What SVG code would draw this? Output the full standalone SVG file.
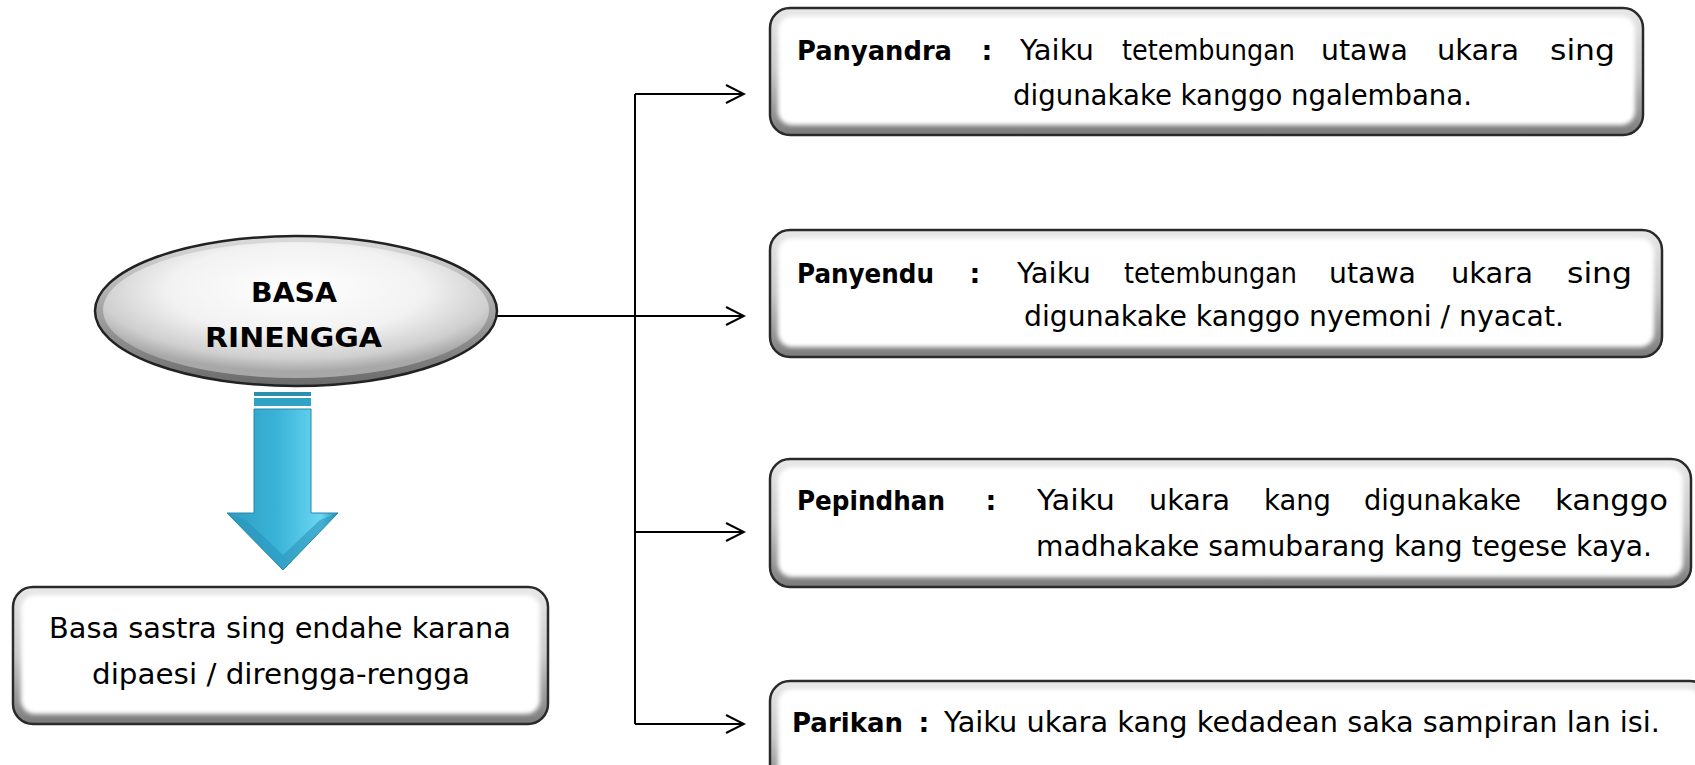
<svg xmlns="http://www.w3.org/2000/svg" width="1695" height="765" viewBox="0 0 1695 765">
<defs>
<style>
.t{font-family:"DejaVu Sans","Noto Sans",sans-serif;font-size:28.5px;fill:#000}
.b{font-weight:bold;font-size:27px}
.c{text-anchor:middle}
.conn{fill:none;stroke:#000;stroke-width:2}
.outer{stroke:#2a2a2a;stroke-width:2.5;fill:url(#rim)}
.inner{fill:#fff;filter:url(#soft)}
</style>
<linearGradient id="rim" x1="0" y1="0" x2="0" y2="1">
<stop offset="0" stop-color="#e8e8e8"/>
<stop offset="0.5" stop-color="#c8c8c8"/>
<stop offset="1" stop-color="#7a7a7a"/>
</linearGradient>
<filter id="soft" x="-5%" y="-10%" width="110%" height="120%">
<feGaussianBlur stdDeviation="2"/>
</filter>
<radialGradient id="ell" cx="0.5" cy="0.35" r="0.6">
<stop offset="0" stop-color="#ffffff"/>
<stop offset="0.55" stop-color="#f2f2f2"/>
<stop offset="0.85" stop-color="#cfcfcf"/>
<stop offset="1" stop-color="#a8a8a8"/>
</radialGradient>
<linearGradient id="ellrim" x1="0" y1="0" x2="0" y2="1">
<stop offset="0" stop-color="#dcdcdc"/>
<stop offset="1" stop-color="#6a6a6a"/>
</linearGradient>
<linearGradient id="shaft" x1="0" y1="0" x2="1" y2="0">
<stop offset="0" stop-color="#2e9dc2"/>
<stop offset="0.45" stop-color="#3ab3d8"/>
<stop offset="0.85" stop-color="#6ad6f2"/>
<stop offset="1" stop-color="#2a8fb3"/>
</linearGradient>
<marker id="ah" markerWidth="22" markerHeight="22" refX="20" refY="11" orient="auto" markerUnits="userSpaceOnUse">
<path d="M2,2 L20,11 L2,20" fill="none" stroke="#000" stroke-width="2"/>
</marker>
</defs>
<rect width="1695" height="765" fill="#fff"/>

<g id="connectors">
<path class="conn" d="M497,316 H635"/>
<path class="conn" d="M635,94 V724"/>
<path class="conn" d="M635,94 H744" marker-end="url(#ah)"/>
<path class="conn" d="M635,316 H744" marker-end="url(#ah)"/>
<path class="conn" d="M635,532 H744" marker-end="url(#ah)"/>
<path class="conn" d="M635,724 H744" marker-end="url(#ah)"/>
</g>

<g id="basa-rinengga">
<ellipse cx="296" cy="311" rx="201" ry="75" fill="url(#ellrim)" stroke="#222" stroke-width="2.5"/>
<ellipse cx="296" cy="310" rx="193" ry="68" fill="url(#ell)"/>
<text class="t b" x="251" y="302" font-size="30" textLength="86" lengthAdjust="spacingAndGlyphs">BASA</text>
<text class="t b" x="205" y="347" font-size="30" textLength="177" lengthAdjust="spacingAndGlyphs">RINENGGA</text>
</g>

<g id="down-arrow">
<rect x="254" y="392" width="57" height="4" fill="#2b8fb0"/>
<rect x="254" y="398" width="57" height="8" fill="#2fa2c6"/>
<path d="M254,409 H311 V513 H338 L283,570 L227,513 H254 Z" fill="url(#shaft)" stroke="#2687a8" stroke-width="1"/>
<path d="M227,513 L283,570 L338,513 L320,520 L283,555 L246,520 Z" fill="#2b95bb" opacity="0.6"/>
</g>

<g id="definition">
<rect class="outer" x="13" y="587" width="535" height="137" rx="20"/>
<rect class="inner" x="21" y="595" width="519" height="119" rx="14"/>
<text class="t" x="49" y="638" textLength="462" lengthAdjust="spacingAndGlyphs">Basa sastra sing endahe karana</text>
<text class="t" x="92" y="684" textLength="378" lengthAdjust="spacingAndGlyphs">dipaesi / direngga-rengga</text>
</g>

<g id="panyandra">
<rect class="outer" x="770" y="8" width="873" height="127" rx="20"/>
<rect class="inner" x="778" y="16" width="857" height="109" rx="14"/>
<text class="t b" x="797" y="60" textLength="155" lengthAdjust="spacingAndGlyphs">Panyandra</text>
<text class="t b c" x="987" y="60">:</text>
<text class="t" x="1020" y="60" textLength="74" lengthAdjust="spacingAndGlyphs">Yaiku</text>
<text class="t" x="1122" y="60" textLength="173" lengthAdjust="spacingAndGlyphs">tetembungan</text>
<text class="t" x="1321" y="60" textLength="87" lengthAdjust="spacingAndGlyphs">utawa</text>
<text class="t" x="1437" y="60" textLength="82" lengthAdjust="spacingAndGlyphs">ukara</text>
<text class="t" x="1550" y="60" textLength="65" lengthAdjust="spacingAndGlyphs">sing</text>
<text class="t" x="1013" y="105" textLength="459" lengthAdjust="spacingAndGlyphs">digunakake kanggo ngalembana.</text>
</g>

<g id="panyendu">
<rect class="outer" x="770" y="230" width="892" height="127" rx="20"/>
<rect class="inner" x="778" y="238" width="876" height="109" rx="14"/>
<text class="t b" x="797" y="283" textLength="137" lengthAdjust="spacingAndGlyphs">Panyendu</text>
<text class="t b c" x="975" y="283">:</text>
<text class="t" x="1017" y="283" textLength="74" lengthAdjust="spacingAndGlyphs">Yaiku</text>
<text class="t" x="1124" y="283" textLength="173" lengthAdjust="spacingAndGlyphs">tetembungan</text>
<text class="t" x="1329" y="283" textLength="87" lengthAdjust="spacingAndGlyphs">utawa</text>
<text class="t" x="1451" y="283" textLength="82" lengthAdjust="spacingAndGlyphs">ukara</text>
<text class="t" x="1567" y="283" textLength="65" lengthAdjust="spacingAndGlyphs">sing</text>
<text class="t" x="1024" y="326" textLength="540" lengthAdjust="spacingAndGlyphs">digunakake kanggo nyemoni / nyacat.</text>
</g>

<g id="pepindhan">
<rect class="outer" x="770" y="459" width="921" height="128" rx="20"/>
<rect class="inner" x="778" y="467" width="905" height="110" rx="14"/>
<text class="t b" x="797" y="510" textLength="148" lengthAdjust="spacingAndGlyphs">Pepindhan</text>
<text class="t b c" x="991" y="510">:</text>
<text class="t" x="1037" y="510" textLength="78" lengthAdjust="spacingAndGlyphs">Yaiku</text>
<text class="t" x="1149" y="510" textLength="81" lengthAdjust="spacingAndGlyphs">ukara</text>
<text class="t" x="1264" y="510" textLength="67" lengthAdjust="spacingAndGlyphs">kang</text>
<text class="t" x="1364" y="510" textLength="157" lengthAdjust="spacingAndGlyphs">digunakake</text>
<text class="t" x="1555" y="510" textLength="113" lengthAdjust="spacingAndGlyphs">kanggo</text>
<text class="t" x="1036" y="556" textLength="616" lengthAdjust="spacingAndGlyphs">madhakake samubarang kang tegese kaya.</text>
</g>

<g id="parikan">
<rect class="outer" x="770" y="681" width="940" height="110" rx="20"/>
<rect class="inner" x="778" y="689" width="924" height="92" rx="14"/>
<text class="t b" x="792" y="732" textLength="111" lengthAdjust="spacingAndGlyphs">Parikan</text>
<text class="t b c" x="924" y="732">:</text>
<text class="t" x="944" y="732" textLength="716" lengthAdjust="spacingAndGlyphs">Yaiku ukara kang kedadean saka sampiran lan isi.</text>
</g>
</svg>
